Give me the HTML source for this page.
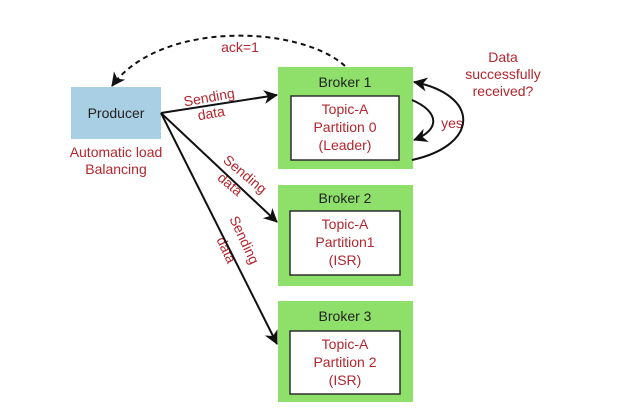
<!DOCTYPE html>
<html><head><style>body{margin:0;background:#fff}svg{display:block}text{font-family:"Liberation Sans",sans-serif;font-size:14px}</style></head><body>
<svg width="619" height="418" viewBox="0 0 619 418">
<defs><marker id="a" markerWidth="14" markerHeight="14" refX="13" refY="7" orient="auto" markerUnits="userSpaceOnUse"><path d="M0,0 L14,7 L0,14 L4,7z" fill="#111"/></marker></defs>
<rect x="71" y="87" width="90" height="52" fill="#a8cfe3"/>
<text x="116" y="118" text-anchor="middle" fill="#222">Producer</text>
<g fill="#b3262e" text-anchor="middle">
<text x="116" y="157">Automatic load</text><text x="116" y="174">Balancing</text>
<text x="240" y="52">ack=1</text>
<text x="503" y="62">Data</text><text x="503" y="79">successfully</text><text x="503" y="96">received?</text>
<text x="452" y="128" font-size="16">yes</text>
<text x="210" y="102" transform="rotate(-10 210 102)">Sending</text>
<text x="212" y="118" transform="rotate(-10 212 118)">data</text>
<text x="242" y="178" transform="rotate(40 242 178)">Sending</text>
<text x="227" y="188" transform="rotate(40 227 188)">data</text>
<text x="240" y="242" transform="rotate(65 240 242)">Sending</text>
<text x="222" y="252" transform="rotate(65 222 252)">data</text>
</g>
<g fill="#8ee06a"><rect x="278" y="67" width="135" height="102"/><rect x="278" y="185" width="135" height="101"/><rect x="278" y="301" width="135" height="101"/></g>
<g fill="#fff" stroke="#222" stroke-width="1.4"><rect x="291" y="96" width="108" height="64"/><rect x="290" y="211" width="110" height="64"/><rect x="290" y="331" width="110" height="63"/></g>
<g fill="#222" text-anchor="middle"><text x="345" y="87">Broker 1</text><text x="345" y="203">Broker 2</text><text x="345" y="321">Broker 3</text></g>
<g fill="#b3262e" text-anchor="middle">
<text x="345" y="114">Topic-A</text><text x="345" y="132">Partition 0</text><text x="345" y="150">(Leader)</text>
<text x="345" y="229">Topic-A</text><text x="345" y="247">Partition1</text><text x="345" y="265">(ISR)</text>
<text x="345" y="349">Topic-A</text><text x="345" y="367">Partition 2</text><text x="345" y="385">(ISR)</text>
</g>
<g stroke="#111" stroke-width="2" fill="none" marker-end="url(#a)">
<line x1="161" y1="113" x2="277" y2="95"/>
<line x1="161" y1="113" x2="277" y2="222"/>
<line x1="161" y1="113" x2="277" y2="344"/>
<path d="M345,66 C300,25 160,20 112,86" stroke-dasharray="5,4"/>
<path d="M412,160 C480,145 480,95 414,82"/>
<path d="M412,100 C440,112 440,130 414,140"/>
</g>
</svg>
</body></html>
